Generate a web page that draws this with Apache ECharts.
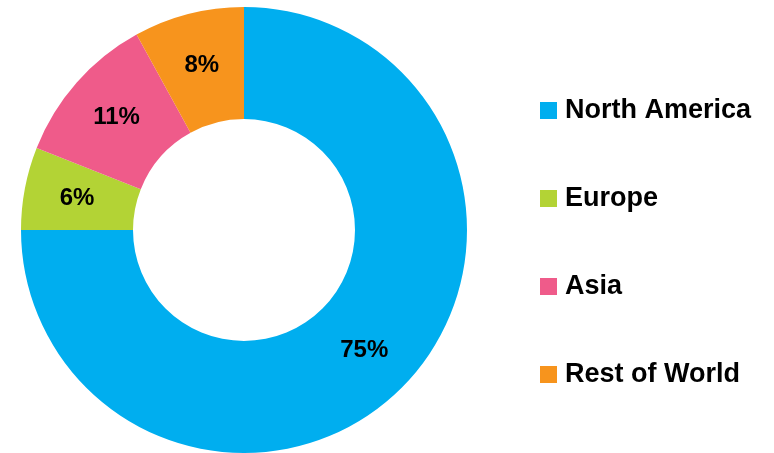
<!DOCTYPE html>
<html>
<head>
<meta charset="utf-8">
<script src="https://cdn.jsdelivr.net/npm/echarts@6/dist/echarts.min.js"></script>
<style>
  html, body { margin: 0; padding: 0; background: #fff; }
  #chart { width: 774px; height: 453px; }
</style>
</head>
<body>
<div id="chart"></div>
<script>
const regions = ['North America', 'Europe', 'Asia', 'Rest of World'];
const shares = [75, 6, 11, 8];
const colors = ['#00AEEF', '#B3D335', '#EF5B8A', '#F7941D'];

const chart = echarts.init(document.getElementById('chart'));

chart.setOption({
  animation: false,
  color: colors,
  legend: {
    orient: 'vertical',
    left: 535,
    top: 92,
    itemWidth: 17,
    itemHeight: 17,
    itemGap: 61,
    icon: 'rect',
    textStyle: {
      fontFamily: 'Liberation Sans',
      fontWeight: 'bold',
      fontSize: 27,
      color: '#000',
      lineHeight: 27,
      padding: [0, 0, 0, 3],
    },
    data: regions,
  },
  series: [
    {
      type: 'pie',
      center: [244, 230],
      radius: [111, 223],
      startAngle: 90,
      clockwise: true,
      label: {
        show: true,
        position: 'inside',
        formatter: '{c}%',
        fontFamily: 'Liberation Sans',
        fontWeight: 'bold',
        fontSize: 24,
        color: '#000',
      },
      labelLine: { show: false },
      emphasis: { disabled: true },
      data: regions.map((name, i) => ({ name: name, value: shares[i] })),
    },
  ],
});
</script>
</body>
</html>
